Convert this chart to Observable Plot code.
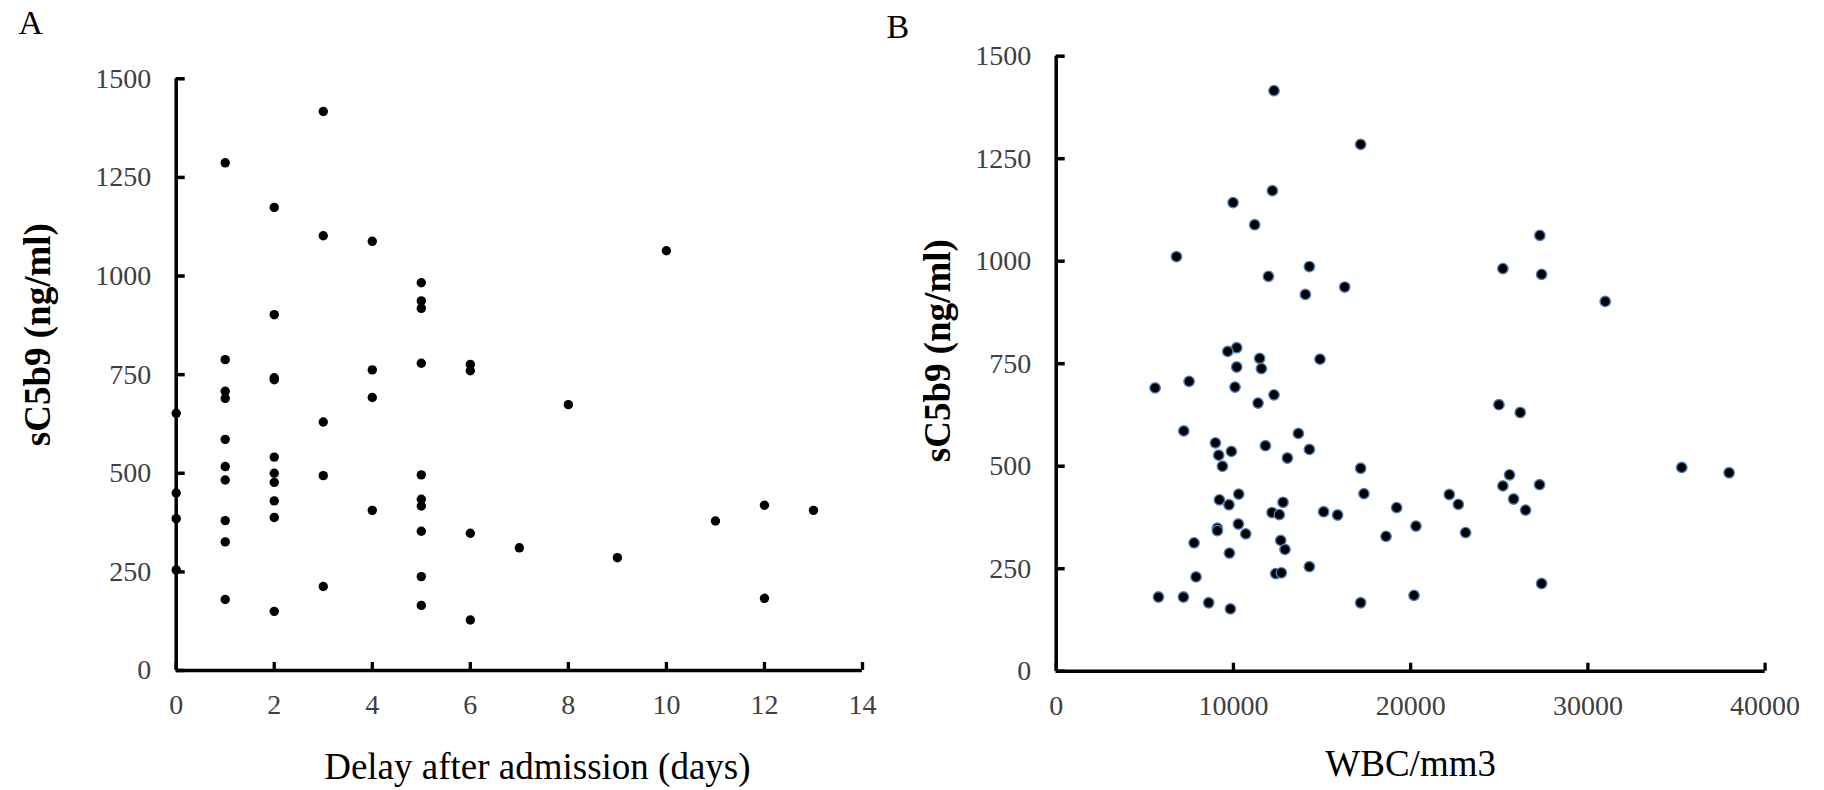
<!DOCTYPE html>
<html><head><meta charset="utf-8">
<script src="https://cdn.jsdelivr.net/npm/d3@7"></script>
<script src="https://cdn.jsdelivr.net/npm/@observablehq/plot@0.6"></script>
<style>
html,body{margin:0;padding:0;background:#fff;}
#wrap{display:flex;width:1824px;height:790px;overflow:hidden;}
#wrap svg{display:block;}
</style></head><body><div id="wrap"></div>
<script>
// Panel A: delay after admission (days) vs sC5b9 (ng/ml)
const delayDays = [
  0,0,0,0,
  1,1,1,1,1,1,1,1,1,1,
  2,2,2,2,2,2,2,2,2,2,
  3,3,3,3,3,
  4,4,4,4,
  5,5,5,5,5,5,5,5,5,5,
  6,6,6,6,
  7,8,9,10,11,12,12,13
];
const delaySC5b9 = [
  652,450,385,255,
  1287,788,708,690,586,517,483,380,326,180,
  1174,902,742,737,541,500,477,430,388,150,
  1417,1102,630,494,213,
  1088,762,692,406,
  983,937,918,779,496,434,417,353,238,165,
  776,760,348,128,
  311,674,286,1064,379,419,183,406
];
// Panel B: WBC/mm3 vs sC5b9 (ng/ml)
const wbcCount = [
  12290,17180,12200,9980,11200,6785,14285,11975,16280,14060,
  10185,9680,11480,14885,10185,11580,5580,7500,10090,12290,
  11390,7200,13665,8985,11805,14285,9885,9170,13045,9380,
  17180,17365,10300,9210,12800,9750,19210,15090,12180,12590,
  15880,10280,20300,9095,9095,10695,18610,7780,12670,12910,
  9775,14285,12385,12705,7890,20190,5770,7180,8605,17180,
  9830,24980,26185,35300,37970,25580,25205,27275,22180,25810,
  22690,26485,23100,27390,27290,25205,27390,30980
];
const wbcSC5b9 = [
  1416,1285,1172,1143,1089,1011,987,963,937,919,
  789,780,763,761,742,738,691,707,693,674,
  654,586,580,557,550,541,536,527,520,500,
  495,433,432,418,412,406,399,389,387,382,
  381,359,354,349,343,335,329,313,319,297,
  288,255,238,240,230,185,181,181,167,167,
  152,650,631,497,484,479,452,455,431,420,
  407,393,338,214,1063,982,968,902
];
const yTicks = [0,250,500,750,1000,1250,1500];
const delayTicks = [0,2,4,6,8,10,12,14];
const wbcTicks = [0,10000,20000,30000,40000];

const serif = "'Liberation Serif','Times New Roman',Times,serif";
const tickGray = "#404040";
const plain = d => String(d);

function panel(cfg) {
  const pw = cfg.width - cfg.m.left - cfg.m.right;
  const ph = cfg.height - cfg.m.top - cfg.m.bottom;
  return Plot.plot({
    width: cfg.width, height: cfg.height,
    marginTop: cfg.m.top, marginRight: cfg.m.right, marginBottom: cfg.m.bottom, marginLeft: cfg.m.left,
    x: {domain: cfg.xDomain, label: null},
    y: {domain: [0, 1500], label: null},
    style: {fontFamily: serif, fontSize: "28px", color: tickGray, background: "white", overflow: "visible"},
    marks: [
      Plot.axisX(cfg.xTicks, {tickSize: 0, tickPadding: 24, tickFormat: plain, fill: tickGray, fontSize: 28, label: null}),
      Plot.axisY(yTicks, {tickSize: 0, tickPadding: 25, tickFormat: plain, fill: tickGray, fontSize: 28, label: null}),
      Plot.ruleY(yTicks, {stroke: "black", strokeWidth: 3.5, insetRight: pw - 9}),
      Plot.ruleX(cfg.xTicks, {stroke: "black", strokeWidth: 3.3, insetTop: ph - 8}),
      Plot.ruleX([cfg.xDomain[0]], {stroke: "black", strokeWidth: 3.5}),
      Plot.ruleY([0], {stroke: "black", strokeWidth: 3.5}),
      Plot.dot(cfg.data, {x: "x", y: "y", r: cfg.r, fill: "black", stroke: cfg.stroke, strokeWidth: cfg.strokeWidth}),
      Plot.text([cfg.yTitle], {frameAnchor: "left", rotate: -90, dx: cfg.yTitleDx, dy: cfg.yTitleDy,
        fontWeight: "bold", fontSize: 37, fill: "black", textAnchor: "middle", lineAnchor: "middle"}),
      Plot.text([cfg.xTitle], {frameAnchor: "bottom", dx: cfg.xTitleDx, dy: cfg.xTitleDy,
        fontSize: 37, fill: "black", textAnchor: "middle", lineAnchor: "middle"}),
      Plot.text([cfg.letter], {frameAnchor: "top-left", dx: cfg.letterDx, dy: cfg.letterDy,
        fontSize: 34, fill: "black", textAnchor: "start", lineAnchor: "middle"})
    ]
  });
}

const dataA = delayDays.map((d, i) => ({x: d, y: delaySC5b9[i]}));
const dataB = wbcCount.map((w, i) => ({x: w, y: wbcSC5b9[i]}));

const plotA = panel({
  width: 900, height: 790,
  m: {top: 78.3, right: 38, bottom: 120, left: 175.7},
  xDomain: [0, 14], xTicks: delayTicks, data: dataA,
  r: 4.7, stroke: "none", strokeWidth: 0,
  yTitle: "sC5b9 (ng/ml)", yTitleDx: 38 - 175.7, yTitleDy: -40,
  xTitle: "Delay after admission (days)", xTitleDx: 18, xTitleDy: 97,
  letter: "A", letterDx: 18 - 175.7, letterDy: 23 - 78.3
});
const plotB = panel({
  width: 924, height: 790,
  m: {top: 55.7, right: 59.4, bottom: 119.3, left: 155.7},
  xDomain: [0, 40000], xTicks: wbcTicks, data: dataB,
  r: 5.2, stroke: "#4f81bd", strokeWidth: 1.4,
  yTitle: "sC5b9 (ng/ml)", yTitleDx: 38 - 155.7, yTitleDy: -13,
  xTitle: "WBC/mm3", xTitleDx: 0, xTitleDy: 93.3,
  letter: "B", letterDx: -14 - 155.7, letterDy: 27 - 55.7
});
const wrap = document.getElementById("wrap");
wrap.appendChild(plotA);
wrap.appendChild(plotB);
</script>
</body></html>
